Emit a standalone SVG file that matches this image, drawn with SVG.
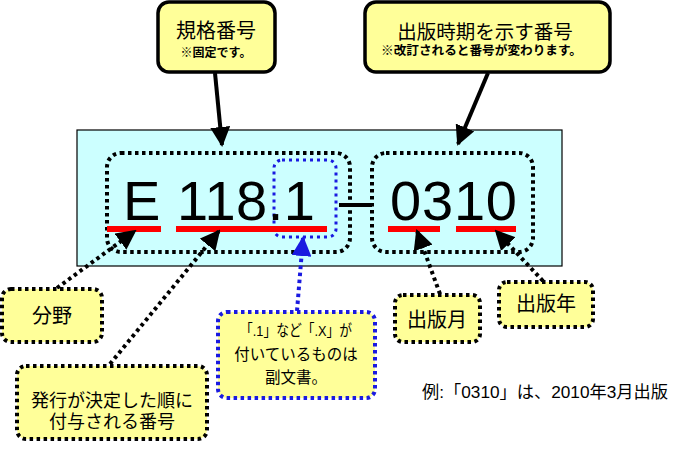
<svg xmlns="http://www.w3.org/2000/svg" width="690" height="451" viewBox="0 0 690 451">
<style>
.callout{fill:#FFFF99;stroke:#000;stroke-width:3.5}
.dot{fill:none;stroke:#000;stroke-width:4;stroke-dasharray:3.5 3.5}
.dotbox{fill:#FFFF99;stroke:#000;stroke-width:4;stroke-dasharray:3.5 3.5}
.bluebox{fill:#FFFF99;stroke:#1A1AE0;stroke-width:4;stroke-dasharray:3.5 3.5}
.jp{font-family:"Liberation Sans","Noto Sans CJK JP",sans-serif;fill:#000}
.big{font-family:"Liberation Sans",Arial,sans-serif;font-size:56px;fill:#000}
.red{stroke:#FF0000;stroke-width:6}
</style>
<defs>
<marker id="ah" viewBox="0 0 10 10" refX="9" refY="5" markerWidth="5" markerHeight="5" orient="auto" markerUnits="strokeWidth">
<path d="M0,0 L10,5 L0,10 Z" fill="#000"/>
</marker>
<marker id="ahs" viewBox="0 0 10 10" refX="9" refY="5" markerWidth="5" markerHeight="5" orient="auto" markerUnits="strokeWidth">
<path d="M0,0 L10,5 L0,10 Z" fill="#000"/>
</marker>
<marker id="ahb" viewBox="0 0 10 10" refX="9" refY="5" markerWidth="5" markerHeight="5" orient="auto" markerUnits="strokeWidth">
<path d="M0,0 L10,5 L0,10 Z" fill="#1A1AE0"/>
</marker>
</defs>

<g id="main-box">
<rect x="77" y="130" width="485" height="136" fill="#CCFFFF" stroke="#000" stroke-width="1.2"/>
<rect class="dot" x="107" y="153" width="243" height="99" rx="14"/>
<rect class="dot" x="372" y="153" width="161" height="99" rx="14"/>
<rect x="274" y="160" width="62" height="77" rx="8" fill="none" stroke="#1A1AE0" stroke-width="3" stroke-dasharray="3 4"/>
<text class="big" x="123" y="220" textLength="192">E 118.1</text>
<line x1="339" y1="205" x2="372" y2="205" stroke="#000" stroke-width="4"/>
<text class="big" x="390" y="220" textLength="127">0310</text>
<line class="red" x1="107" y1="229" x2="161" y2="229"/>
<line class="red" x1="176" y1="229" x2="327" y2="229"/>
<line class="red" x1="388" y1="229" x2="440" y2="229"/>
<line class="red" x1="456" y1="229" x2="516" y2="229"/>
</g>

<g id="connectors">
<line x1="215" y1="73" x2="222" y2="145" stroke="#000" stroke-width="4" marker-end="url(#ah)"/>
<line x1="488" y1="73" x2="458" y2="144" stroke="#000" stroke-width="4" marker-end="url(#ah)"/>
<line class="dot" x1="57" y1="288" x2="135" y2="231" marker-end="url(#ahs)"/>
<line class="dot" x1="110" y1="364" x2="219" y2="231" marker-end="url(#ahs)"/>
<line x1="297" y1="311" x2="303" y2="238" stroke="#1A1AE0" stroke-width="4" stroke-dasharray="3.5 3.5" marker-end="url(#ahb)"/>
<line class="dot" x1="440" y1="294" x2="417" y2="231" marker-end="url(#ahs)"/>
<line class="dot" x1="543" y1="281" x2="496" y2="231" marker-end="url(#ahs)"/>
</g>

<g id="callout-kikaku">
<rect class="callout" x="158" y="2" width="117" height="70" rx="11"/>
<text class="jp" x="216" y="38" font-size="20" text-anchor="middle">規格番号</text>
<text class="jp" x="216" y="57" font-size="12" font-weight="bold" text-anchor="middle">※固定です。</text>
</g>

<g id="callout-jiki">
<rect class="callout" x="365" y="2" width="245" height="70" rx="11"/>
<text class="jp" x="485" y="39" font-size="19.5" text-anchor="middle">出版時期を示す番号</text>
<text class="jp" x="381" y="55" font-size="12.5" font-weight="bold" textLength="201" lengthAdjust="spacingAndGlyphs">※改訂されると番号が変わります。</text>
</g>

<g id="node-bunya">
<rect class="dotbox" x="2" y="289" width="100" height="53" rx="9"/>
<text class="jp" x="52" y="323" font-size="20" text-anchor="middle">分野</text>
</g>

<g id="node-hakko">
<rect class="dotbox" x="17" y="366" width="190" height="73" rx="9"/>
<text class="jp" x="112" y="407" font-size="18" text-anchor="middle">発行が決定した順に</text>
<text class="jp" x="112" y="428" font-size="18" text-anchor="middle">付与される番号</text>
</g>

<g id="node-fukubun">
<rect class="bluebox" x="218" y="312" width="157" height="86" rx="9"/>
<text class="jp" x="240" y="336" font-size="15.5" textLength="112" lengthAdjust="spacingAndGlyphs">「.1」など「.X」が</text>
<text class="jp" x="296" y="360" font-size="15.5" text-anchor="middle">付いているものは</text>
<text class="jp" x="296" y="383" font-size="15.5" text-anchor="middle">副文書。</text>
</g>

<g id="node-tsuki">
<rect class="dotbox" x="395" y="295" width="85" height="47" rx="8"/>
<text class="jp" x="437" y="327" font-size="20" text-anchor="middle">出版月</text>
</g>

<g id="node-nen">
<rect class="dotbox" x="499" y="282" width="94" height="45" rx="8"/>
<text class="jp" x="546" y="311" font-size="20" text-anchor="middle">出版年</text>
</g>

<text class="jp" x="422" y="398" font-size="16.5" textLength="246" lengthAdjust="spacingAndGlyphs">例:「0310」は、2010年3月出版</text>
</svg>
